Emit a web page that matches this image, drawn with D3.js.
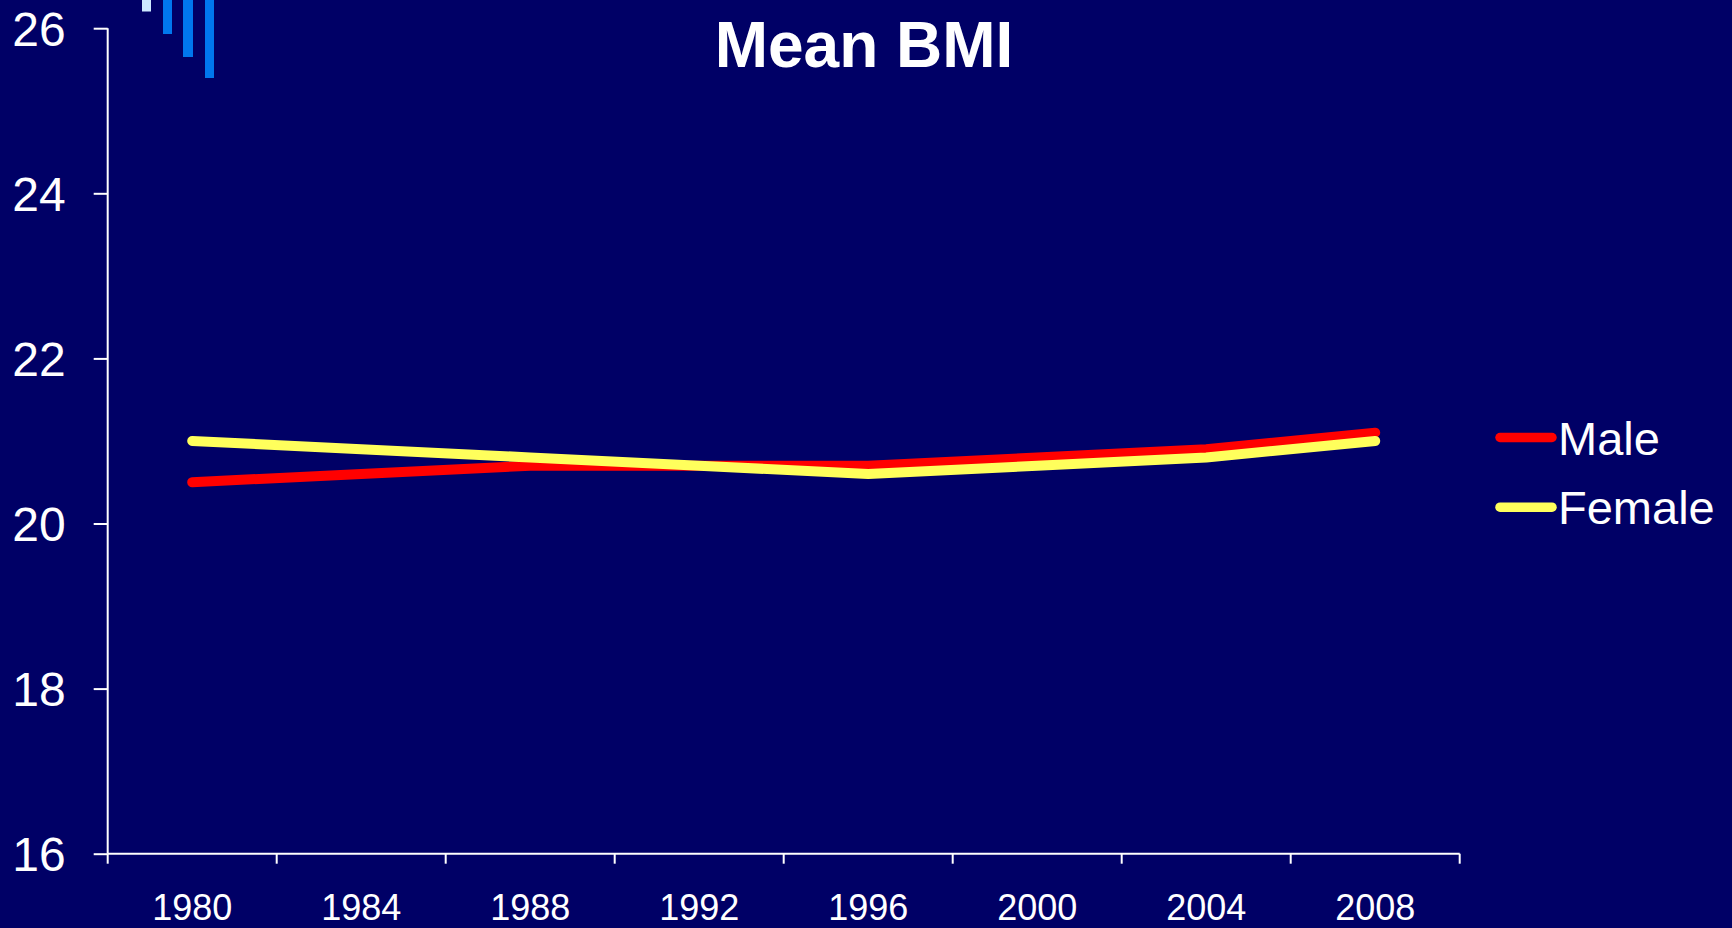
<!DOCTYPE html>
<html>
<head>
<meta charset="utf-8">
<script src="https://cdn.jsdelivr.net/npm/d3@7/dist/d3.min.js"></script>
<style>
  html, body { margin: 0; padding: 0; background: #000066; }
  svg { display: block; }
  text { font-family: "Liberation Sans", Arial, sans-serif; fill: #ffffff; }
</style>
</head>
<body>
<svg id="chart" width="1732" height="928"></svg>
<script>
// Survey years on the category axis
const years = ["1980", "1984", "1988", "1992", "1996", "2000", "2004", "2008"];
// Mean BMI by sex
const male   = [20.5, 20.6, 20.7, 20.7, 20.7, 20.8, 20.9, 21.1];
const female = [21.0, 20.9, 20.8, 20.7, 20.6, 20.7, 20.8, 21.0];
const yTicks = [16, 18, 20, 22, 24, 26];
const seriesNames = ["Male", "Female"];
const seriesColors = ["#ff0000", "#ffff5c"];

const svg = d3.select("#chart");

// Decorative slide accent bars in the top-left corner
const accents = [
  { x: 142, w: 9,  h: 11.5, c: "#cde9ff" },
  { x: 163, w: 9,  h: 34,   c: "#0077ee" },
  { x: 183, w: 10, h: 57,   c: "#0077ee" },
  { x: 205, w: 9,  h: 78,   c: "#0077ee" }
];
svg.selectAll("rect.accent").data(accents).join("rect")
  .attr("class", "accent")
  .attr("x", d => d.x).attr("y", 0)
  .attr("width", d => d.w).attr("height", d => d.h)
  .attr("fill", d => d.c);

const x = d3.scaleBand().domain(years).range([107.7, 1459.7]).padding(0);
const y = d3.scaleLinear().domain([16, 26]).range([853.7, 28.2]);

// Y axis
const yAxis = svg.append("g").attr("transform", `translate(${x.range()[0]},0)`)
  .call(d3.axisLeft(y).tickValues(yTicks).tickSize(14).tickPadding(28).tickFormat(d3.format("d")));
yAxis.select(".domain").attr("stroke", "#ffffff").attr("stroke-width", 2).attr("d", `M0,${y(16)}V${y(26)}`);
yAxis.selectAll(".tick line").attr("stroke", "#ffffff").attr("stroke-width", 2);
yAxis.selectAll(".tick text")
  .style("font-size", "48px")
  .attr("fill", "#ffffff")
  .attr("dy", "0.35em");

// X axis: labels centred in each band, tick marks on band boundaries
const xAxis = svg.append("g").attr("transform", `translate(0,${y(16)})`)
  .call(d3.axisBottom(x).tickSize(0).tickPadding(41));
xAxis.select(".domain").attr("stroke", "#ffffff").attr("stroke-width", 2)
  .attr("d", `M${x.range()[0]},0H${x.range()[1]}`);
xAxis.selectAll(".tick text").style("font-size", "36px").attr("fill", "#ffffff");

const bounds = years.map(d => x(d)).concat([x.range()[1]]);
xAxis.selectAll("line.bound").data(bounds).join("line")
  .attr("class", "bound")
  .attr("x1", d => d).attr("x2", d => d)
  .attr("y1", 0).attr("y2", 10)
  .attr("stroke", "#ffffff").attr("stroke-width", 2);

// Series lines
const line = d3.line()
  .x((d, i) => x(years[i]) + x.bandwidth() / 2)
  .y(d => y(d));

[male, female].forEach((vals, k) => {
  svg.append("path")
    .datum(vals)
    .attr("d", line)
    .attr("fill", "none")
    .attr("stroke", seriesColors[k])
    .attr("stroke-width", 10)
    .attr("stroke-linecap", "round")
    .attr("stroke-linejoin", "round");
});

// Title
svg.append("text")
  .attr("x", 864).attr("y", 66.5)
  .attr("text-anchor", "middle")
  .style("font-size", "64px")
  .style("font-weight", "bold")
  .text("Mean BMI");

// Legend
const legend = svg.append("g").attr("transform", "translate(1500,437.5)");
const items = legend.selectAll("g").data(seriesNames).join("g")
  .attr("transform", (d, i) => `translate(0,${i * 69.7})`);
items.append("line")
  .attr("x1", 0).attr("x2", 52).attr("y1", 0).attr("y2", 0)
  .attr("stroke", (d, i) => seriesColors[i])
  .attr("stroke-width", 9.5)
  .attr("stroke-linecap", "round");
items.append("text")
  .attr("x", 58).attr("y", 17)
  .style("font-size", "47px")
  .text(d => d);
</script>
</body>
</html>
